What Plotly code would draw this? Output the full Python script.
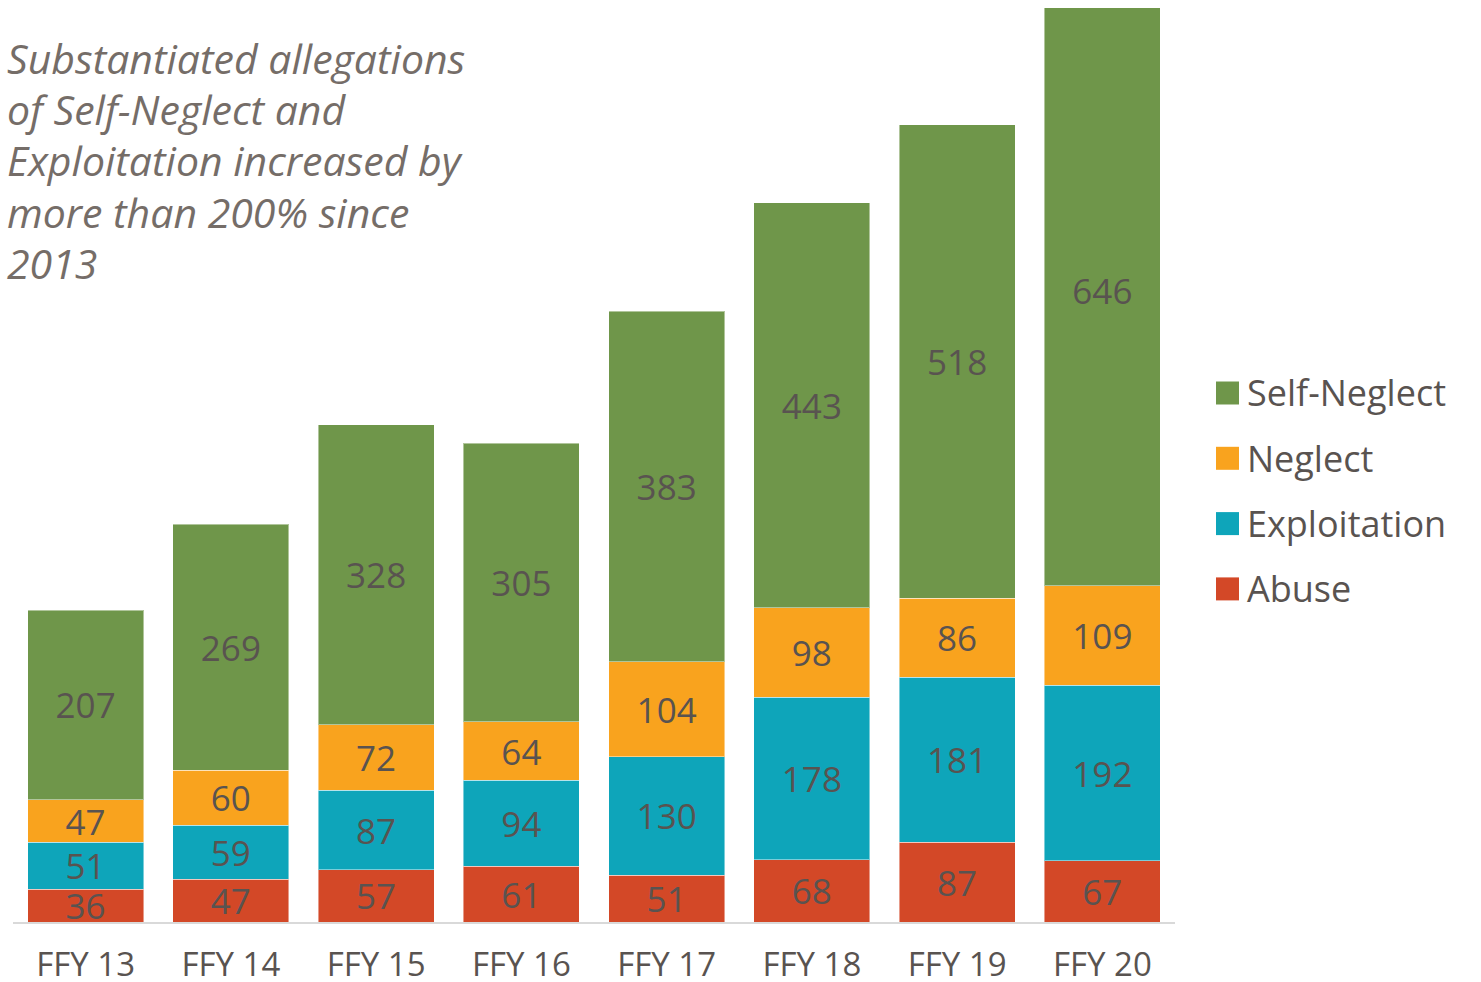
import plotly.graph_objects as go

## data
years = ['FFY 13', 'FFY 14', 'FFY 15', 'FFY 16', 'FFY 17', 'FFY 18', 'FFY 19', 'FFY 20']
abuse = [36, 47, 57, 61, 51, 68, 87, 67]
exploitation = [51, 59, 87, 94, 130, 178, 181, 192]
neglect = [47, 60, 72, 64, 104, 98, 86, 109]
self_neglect = [207, 269, 328, 305, 383, 443, 518, 646]

series = [
    ('Abuse', abuse, '#d34827'),
    ('Exploitation', exploitation, '#0ea5ba'),
    ('Neglect', neglect, '#f9a31e'),
    ('Self-Neglect', self_neglect, '#6f964a'),
]

title_lines = ['Substantiated allegations', 'of Self-Neglect and', 'Exploitation increased by',
               'more than 200% since', '2013']

y_max = 1000  # axis top in the original; the FFY 20 bar runs past it

font_family = 'Open Sans, Noto Sans, sans-serif'
label_color = '#595350'

# plot area in pixels (left, right, top, bottom)
L, R, T, B = 13, 1175, 8, 922
W, H = R - L, B - T

def px(x):
    return (x - L) / W

def py(y):
    return (B - y) / H

fig = go.Figure()
for name, vals, col in series:
    fig.add_trace(go.Bar(
        x=years, y=vals, name=name,
        marker=dict(color=col, line=dict(color='rgba(255,255,255,0.45)', width=1)),
        text=vals, textposition='inside', insidetextanchor='middle',
        textangle=0, constraintext='none',
        textfont=dict(color=label_color, size=35, family=font_family),
        showlegend=False,
    ))

## legend drawn by hand so the squares can be bigger
legend_top = 393
for i, (name, vals, col) in enumerate(reversed(series)):
    yc = legend_top + i * 65.3
    fig.add_shape(type='rect', xref='paper', yref='paper',
                  x0=px(1216), x1=px(1239), y0=py(yc + 11.5), y1=py(yc - 11.5),
                  fillcolor=col, line=dict(width=0))
    fig.add_annotation(xref='paper', yref='paper', x=px(1245), y=py(yc),
                       xanchor='left', yanchor='middle', showarrow=False, text=name,
                       font=dict(size=36, color=label_color, family=font_family))

## title, one annotation per line to keep the line spacing
for i, line in enumerate(title_lines):
    fig.add_annotation(
        xref='paper', yref='paper', x=px(5), y=py(58 + i * 51.2),
        xanchor='left', yanchor='middle', align='left', showarrow=False,
        text='<i>' + line + '</i>',
        font=dict(size=41, color='#756d68', family=font_family),
    )

fig.update_layout(
    barmode='stack', bargap=0.2,
    width=1481, height=982,
    margin=dict(l=L, r=1481 - R, t=T, b=982 - B, autoexpand=False),
    plot_bgcolor='white', paper_bgcolor='white',
    uniformtext=dict(minsize=35, mode='show'),
    xaxis=dict(showline=True, linecolor='#d9d9d9', linewidth=2, showgrid=False,
               tickfont=dict(size=33, color=label_color, family=font_family),
               ticks='', ticklabelstandoff=12, automargin=False),
    yaxis=dict(visible=False, range=[0, y_max], showgrid=False, automargin=False),
)

# page has a default 8px body margin; drop it so the figure fills the window
fig.write_html('out.html', config={'displayModeBar': False},
               post_script="document.body.style.margin='0';")
